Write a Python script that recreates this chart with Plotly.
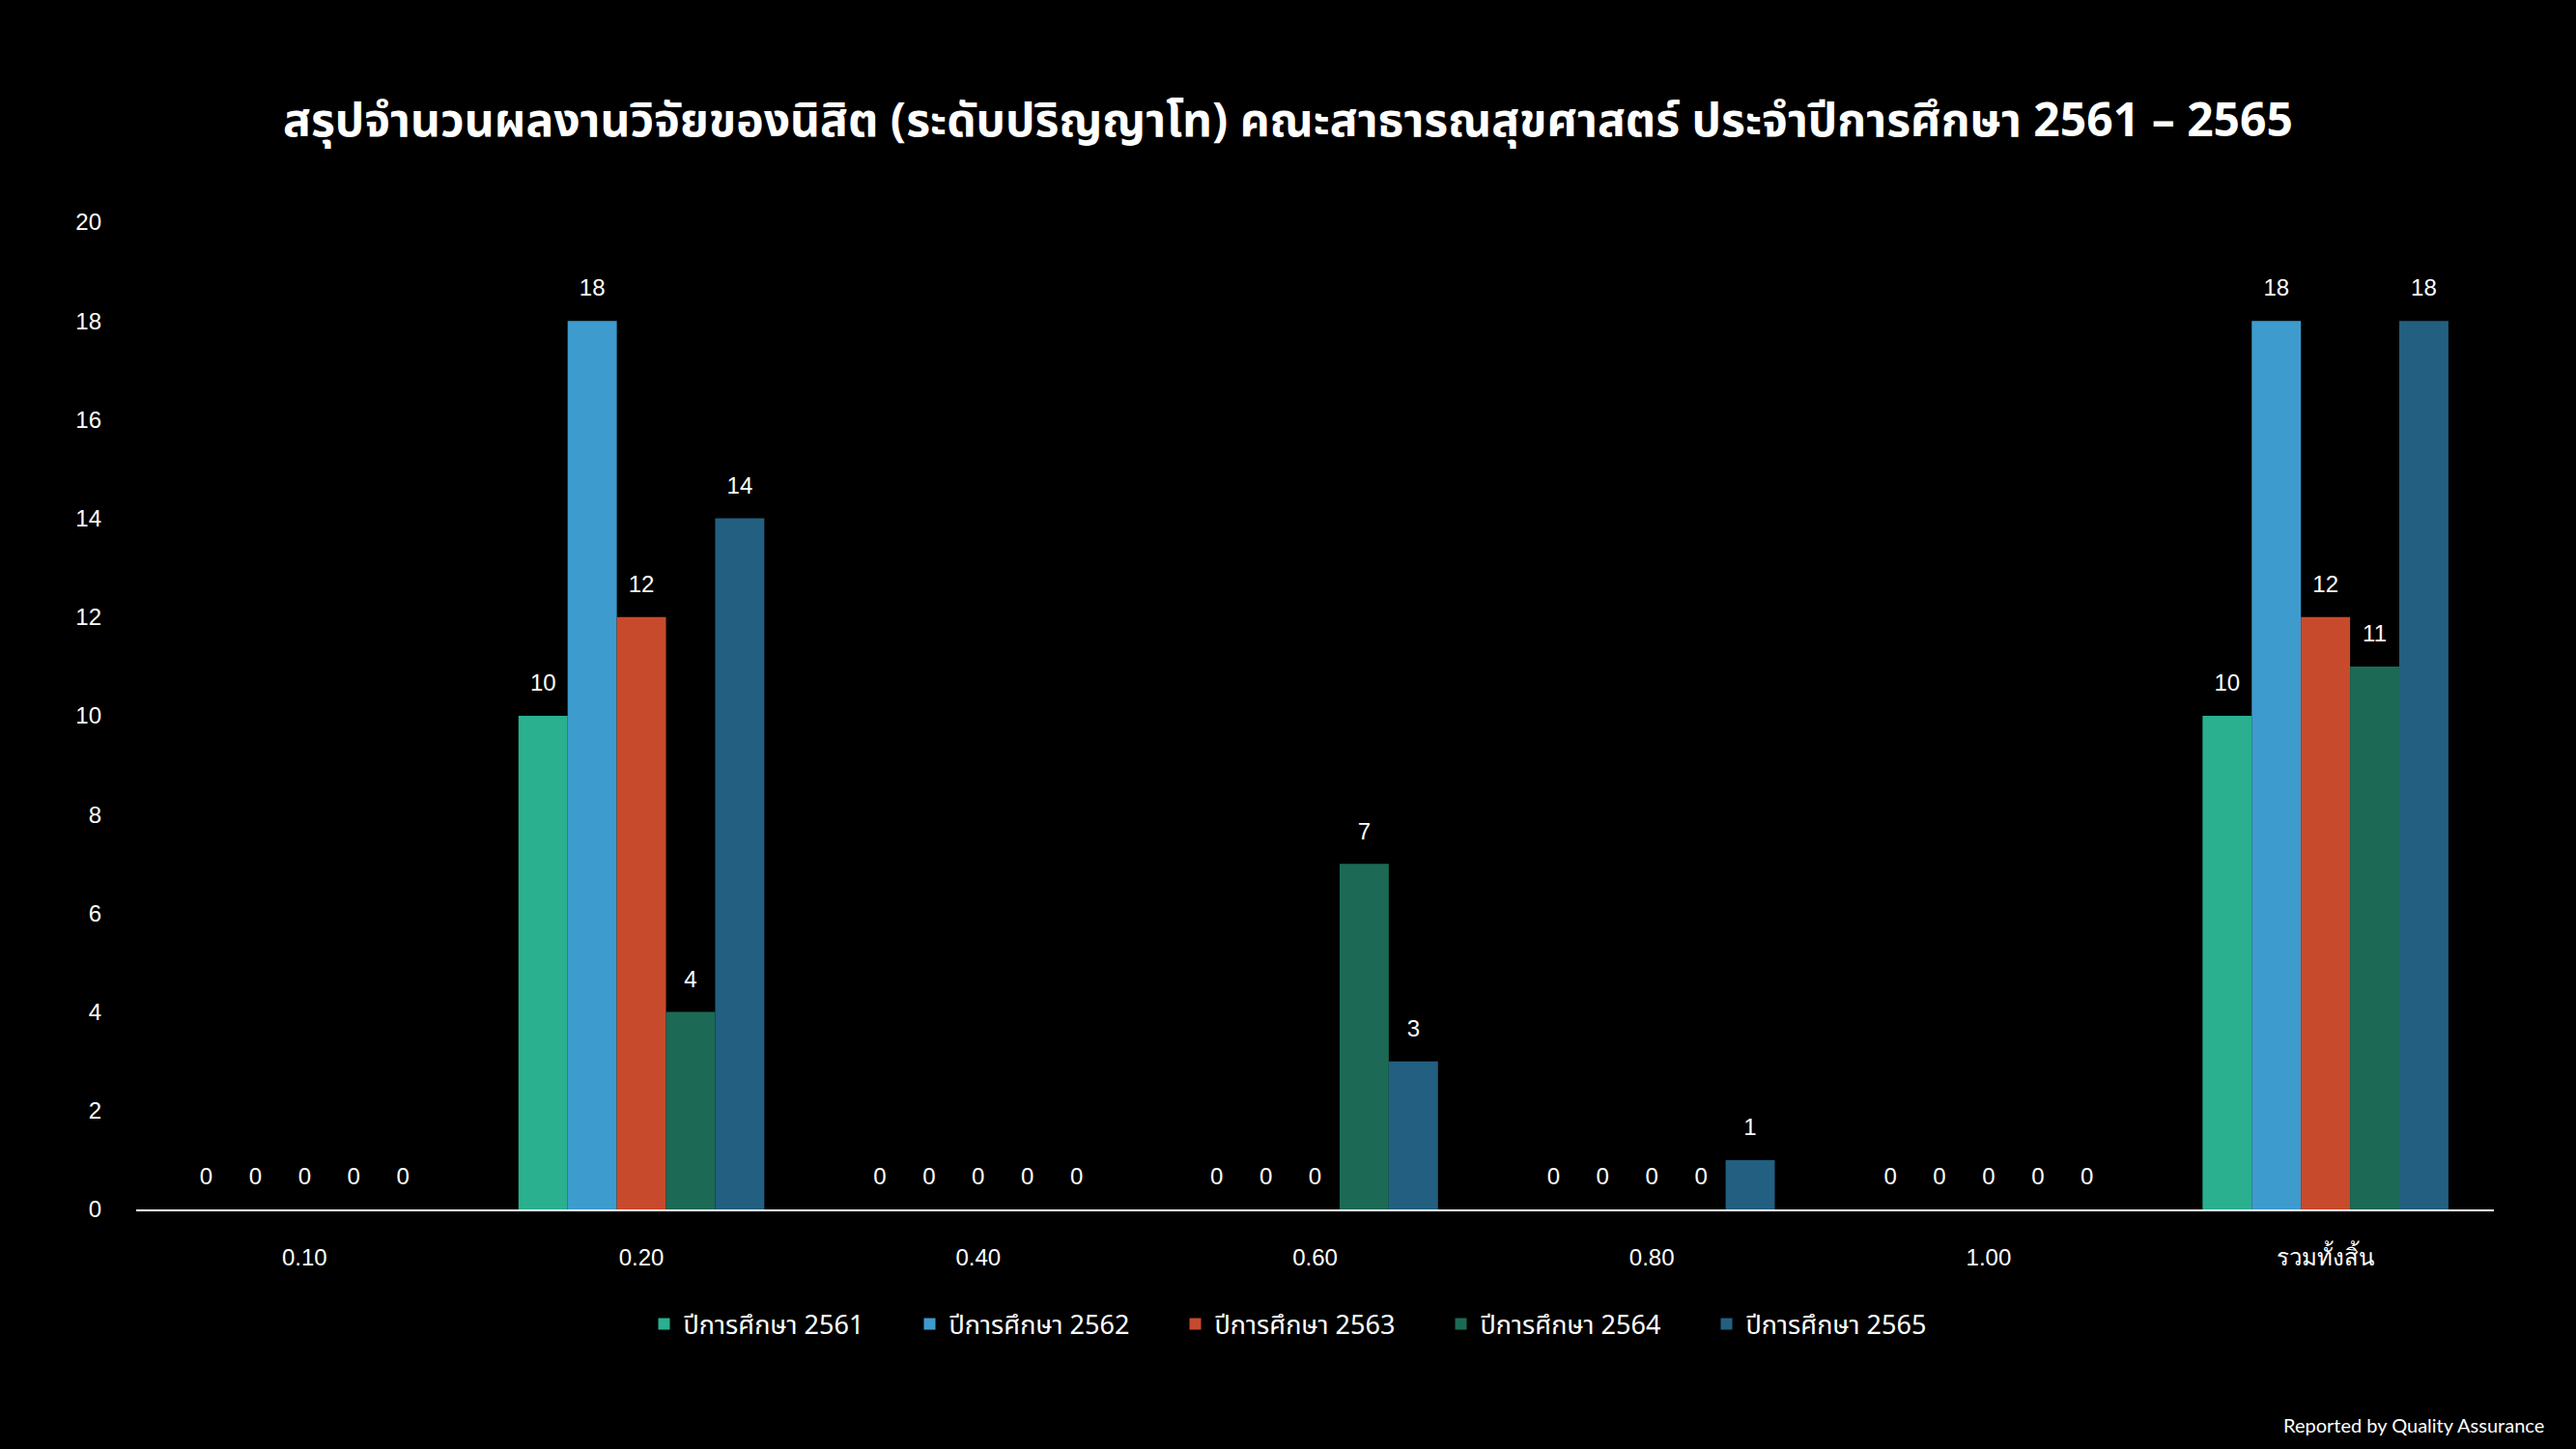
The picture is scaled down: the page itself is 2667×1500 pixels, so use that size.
import plotly.graph_objects as go

categories = ["0.10", "0.20", "0.40", "0.60", "0.80", "1.00", "รวมทั้งสิ้น"]
series_names = ["ปีการศึกษา 2561", "ปีการศึกษา 2562", "ปีการศึกษา 2563", "ปีการศึกษา 2564", "ปีการศึกษา 2565"]
y2561 = [0, 10, 0, 0, 0, 0, 10]
y2562 = [0, 18, 0, 0, 0, 0, 18]
y2563 = [0, 12, 0, 0, 0, 0, 12]
y2564 = [0, 4, 0, 7, 0, 0, 11]
y2565 = [0, 14, 0, 3, 1, 0, 18]
colors = ["#2AB08E", "#3E9BCD", "#C84A2D", "#1C6A55", "#225F80"]
y_ticks = [0, 2, 4, 6, 8, 10, 12, 14, 16, 18, 20]

title_text = "สรุปจำนวนผลงานวิจัยของนิสิต (ระดับปริญญาโท) คณะสาธารณสุขศาสตร์ ประจำปีการศึกษา 2561 – 2565"
footer_text = "Reported by Quality Assurance"

num_font = "Liberation Sans, Arial, sans-serif"
thai_font = "Noto Sans Thai, Tahoma, Noto Sans, DejaVu Sans, sans-serif"

fig = go.Figure()
all_series = [y2561, y2562, y2563, y2564, y2565]
for i, (name, vals, col) in enumerate(zip(series_names, all_series, colors)):
    fig.add_trace(go.Bar(
        x=categories, y=vals, name=name,
        marker=dict(color=col, line=dict(width=0)),
        offsetgroup=str(i), hoverinfo="y",
    ))
# value labels, aligned with grouped bars
for i, (name, vals) in enumerate(zip(series_names, all_series)):
    fig.add_trace(go.Scatter(
        x=categories, y=vals, mode="markers+text", text=[str(v) for v in vals],
        textposition="top center", offsetgroup=str(i),
        marker=dict(size=30, color="rgba(0,0,0,0)"),
        textfont=dict(color="white", size=24, family=num_font),
        showlegend=False, hoverinfo="skip", cliponaxis=False,
    ))

fig.update_layout(
    width=2667, height=1500,
    paper_bgcolor="black", plot_bgcolor="black",
    barmode="group", bargap=0.27, bargroupgap=0,
    scattermode="group", scattergap=0.27,
    margin=dict(l=141, r=85, t=230, b=248),
    title=dict(text="<b>" + title_text + "</b>", x=0.5, xanchor="center",
               y=1 - 124 / 1500, yanchor="middle",
               font=dict(color="white", size=48, family=thai_font)),
    xaxis=dict(showgrid=False, showline=True, linecolor="white", linewidth=2,
               ticks="", tickfont=dict(color="white", size=24, family=num_font),
               ticklabelstandoff=27, zeroline=False),
    yaxis=dict(range=[0, 20], tickvals=y_ticks, showgrid=False, showline=False,
               zeroline=False, ticks="", ticklabelstandoff=35,
               tickfont=dict(color="white", size=24, family=num_font)),
    legend=dict(orientation="h", xref="container", x=1355 / 2667, xanchor="center",
                yref="container", y=1 - 1371 / 1500, yanchor="middle",
                font=dict(color="white", size=27, family=thai_font),
                itemwidth=30, entrywidth=230),
    showlegend=True,
)
fig.add_annotation(text=footer_text, xref="paper", yref="paper",
                   x=1 + 54 / 2441, y=-(1475 - 1252) / 1022, xanchor="right", yanchor="middle",
                   showarrow=False, font=dict(color="white", size=20, family="Lato, Open Sans, sans-serif"))

fig.write_html("out.html")
